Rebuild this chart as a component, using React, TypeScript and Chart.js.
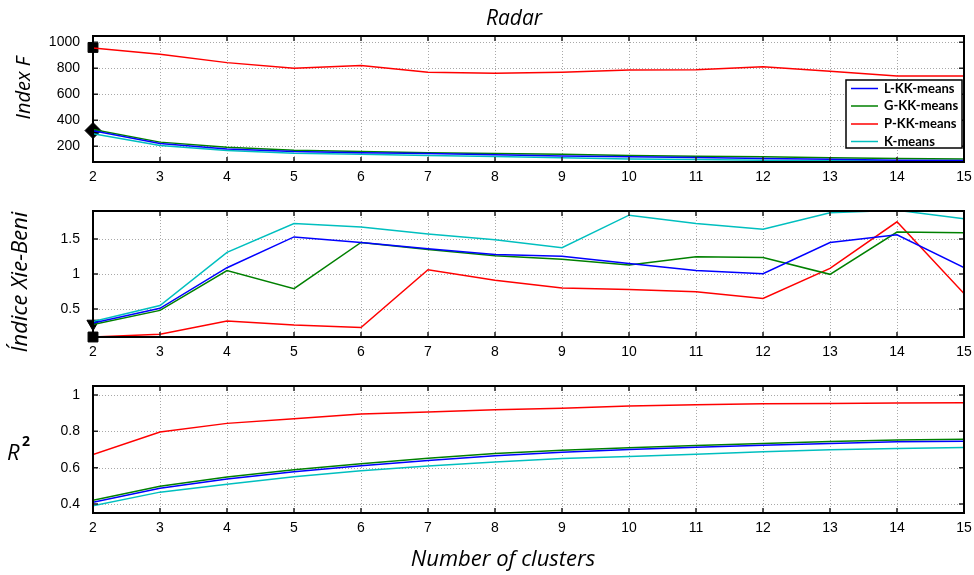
import React, { useEffect, useRef } from "react";
import { Chart, registerables } from "chart.js";
Chart.register(...registerables);

const clusters = [2, 3, 4, 5, 6, 7, 8, 9, 10, 11, 12, 13, 14, 15];
const seriesNames = ["L-KK-means", "G-KK-means", "P-KK-means", "K-means"];
const seriesColors = ["#0000ff", "#008000", "#ff0000", "#00bfbf"];

const indexF_L = [318, 220, 179, 158, 150, 143, 133, 125, 118, 113, 105, 100, 92, 90];
const indexF_G = [328, 231, 192, 169, 158, 150, 143, 138, 128, 123, 118, 110, 105, 102];
const indexF_P = [956, 908, 843, 800, 820, 769, 762, 769, 787, 789, 812, 777, 741, 741];
const indexF_K = [295, 205, 167, 146, 138, 128, 120, 110, 102, 97, 92, 87, 85, 82];

const xb_L = [0.3, 0.51, 1.09, 1.53, 1.45, 1.36, 1.28, 1.255, 1.15, 1.05, 1.005, 1.45, 1.56, 1.09];
const xb_G = [0.28, 0.48, 1.05, 0.79, 1.45, 1.35, 1.26, 1.21, 1.13, 1.245, 1.235, 0.995, 1.6, 1.59];
const xb_P = [0.1, 0.14, 0.33, 0.27, 0.235, 1.06, 0.91, 0.8, 0.78, 0.745, 0.65, 1.08, 1.745, 0.72];
const xb_K = [0.32, 0.55, 1.31, 1.72, 1.67, 1.57, 1.49, 1.375, 1.84, 1.72, 1.64, 1.875, 1.91, 1.79];

const r2_L = [0.409, 0.487, 0.537, 0.578, 0.611, 0.639, 0.665, 0.685, 0.7, 0.713, 0.724, 0.733, 0.743, 0.746];
const r2_G = [0.42, 0.498, 0.548, 0.589, 0.622, 0.652, 0.678, 0.696, 0.709, 0.722, 0.733, 0.744, 0.752, 0.757];
const r2_P = [0.672, 0.796, 0.844, 0.87, 0.896, 0.907, 0.919, 0.928, 0.94, 0.946, 0.952, 0.954, 0.956, 0.957];
const r2_K = [0.39, 0.465, 0.509, 0.55, 0.583, 0.609, 0.631, 0.65, 0.661, 0.674, 0.687, 0.698, 0.706, 0.711];

const indexFTicks = [200, 400, 600, 800, 1000];
const xbTicks = [0.5, 1, 1.5];
const r2Ticks = [0.4, 0.6, 0.8, 1];

const indexFMarkers = [960, 320];
const indexFMarkerStyles = ["rect", "rectRot"];
const xbMarkers = [0.1, 0.29];
const xbMarkerStyles = ["rect", "triangle"];

const TITLE_FONT = "'Open Sans', 'DejaVu Sans', sans-serif";
const TICK_FONT = "'Liberation Sans', Arial, sans-serif";

type PanelProps = {
  top: number;
  height: number;
  padTop: number;
  padBottom: number;
  yMin: number;
  yMax: number;
  yTicks: number[];
  series: number[][];
  markers?: number[];
  markerStyles?: string[];
  markerRotation?: number[];
  markerRadius?: number[];
  drawTexts: (ctx: CanvasRenderingContext2D, chart: any) => void;
  legend?: boolean;
};

function fmt(v: number) {
  return String(Math.round(v * 100) / 100);
}

function Panel(p: PanelProps) {
  const ref = useRef<HTMLCanvasElement | null>(null);
  useEffect(() => {
    const canvas = ref.current!;
    const datasets: any[] = p.series.map((vals, i) => ({
      label: seriesNames[i],
      data: clusters.map((c, j) => ({ x: c, y: vals[j] })),
      borderColor: seriesColors[i],
      backgroundColor: seriesColors[i],
      borderWidth: 1.5,
      pointRadius: 0,
      tension: 0,
    }));
    if (p.markers) {
      datasets.push({
        type: "scatter",
        label: "markers",
        data: p.markers.map((v) => ({ x: clusters[0], y: v })),
        pointStyle: p.markerStyles,
        pointRotation: p.markerRotation || [0, 0],
        pointRadius: p.markerRadius || [7, 8],
        backgroundColor: "#000",
        borderColor: "#000",
        borderWidth: 1,
        clip: false,
        showLine: false,
      });
    }
    const frame = {
      id: "frame",
      beforeDatasetsDraw(chart: any) {
        const { ctx, chartArea: a, scales } = chart;
        ctx.save();
        ctx.strokeStyle = "#a8a8a8";
        ctx.lineWidth = 1;
        ctx.setLineDash([1, 2]);
        scales.x.ticks.forEach((t: any) => {
          const x = Math.round(scales.x.getPixelForValue(t.value)) + 0.5;
          ctx.beginPath();
          ctx.moveTo(x, a.top);
          ctx.lineTo(x, a.bottom);
          ctx.stroke();
        });
        scales.y.ticks.forEach((t: any) => {
          const y = Math.round(scales.y.getPixelForValue(t.value)) + 0.5;
          ctx.beginPath();
          ctx.moveTo(a.left, y);
          ctx.lineTo(a.right, y);
          ctx.stroke();
        });
        ctx.restore();
      },
      afterDatasetsDraw(chart: any) {
        const { ctx, chartArea: a, scales } = chart;
        ctx.save();
        ctx.setLineDash([]);
        ctx.strokeStyle = "#222";
        ctx.lineWidth = 1.5;
        const tl = 5;
        scales.x.ticks.forEach((t: any) => {
          const x = scales.x.getPixelForValue(t.value);
          ctx.beginPath();
          ctx.moveTo(x, a.bottom);
          ctx.lineTo(x, a.bottom - tl);
          ctx.moveTo(x, a.top);
          ctx.lineTo(x, a.top + tl);
          ctx.stroke();
        });
        scales.y.ticks.forEach((t: any) => {
          const y = scales.y.getPixelForValue(t.value);
          ctx.beginPath();
          ctx.moveTo(a.left, y);
          ctx.lineTo(a.left + tl, y);
          ctx.moveTo(a.right, y);
          ctx.lineTo(a.right - tl, y);
          ctx.stroke();
        });
        ctx.strokeStyle = "#000";
        ctx.lineWidth = 2;
        ctx.strokeRect(a.left, a.top, a.right - a.left, a.bottom - a.top);
        if (p.legend) {
          const bx = 846, by = 80, bw = 116, bh = 68;
          ctx.fillStyle = "#fff";
          ctx.fillRect(bx, by, bw, bh);
          ctx.lineWidth = 1.5;
          ctx.strokeStyle = "#000";
          ctx.strokeRect(bx, by, bw, bh);
          const rows = [88.5, 106, 124, 141.5];
          ctx.font = "bold 13px Lato, 'Liberation Sans', sans-serif";
          ctx.textBaseline = "middle";
          ctx.textAlign = "left";
          seriesNames.forEach((n, i) => {
            ctx.strokeStyle = seriesColors[i];
            ctx.lineWidth = 1.5;
            ctx.beginPath();
            ctx.moveTo(851, rows[i]);
            ctx.lineTo(878, rows[i]);
            ctx.stroke();
            ctx.fillStyle = "#000";
            ctx.fillText(n, 884, rows[i]);
          });
        }
        ctx.restore();
      },
      afterDraw(chart: any) {
        const ctx = chart.ctx;
        ctx.save();
        p.drawTexts(ctx, chart);
        ctx.restore();
      },
    };
    const chart = new Chart(canvas, {
      type: "line",
      data: { datasets },
      options: {
        animation: false,
        responsive: false,
        maintainAspectRatio: false,
        layout: { padding: { top: p.padTop, bottom: p.padBottom, left: 0, right: 10 } },
        plugins: { legend: { display: false }, tooltip: { enabled: false }, title: { display: false } },
        scales: {
          x: {
            type: "linear",
            min: 2,
            max: 15,
            grid: { display: false, drawTicks: false },
            border: { display: false },
            afterBuildTicks: (s: any) => {
              s.ticks = clusters.map((c) => ({ value: c }));
            },
            ticks: {
              padding: 7,
              color: "#000",
              font: { family: TICK_FONT, size: 14 },
              callback: (v: any) => String(v),
            },
            afterFit: (s: any) => {
              s.height = 28;
              s.paddingLeft = 0;
              s.paddingRight = 0;
            },
          },
          y: {
            type: "linear",
            min: p.yMin,
            max: p.yMax,
            grid: { display: false, drawTicks: false },
            border: { display: false },
            afterBuildTicks: (s: any) => {
              s.ticks = p.yTicks.map((v) => ({ value: v }));
            },
            ticks: {
              padding: 13,
              color: "#000",
              font: { family: TICK_FONT, size: 14 },
              callback: (v: any) => fmt(Number(v)),
            },
            afterFit: (s: any) => {
              s.width = 93;
              s.paddingTop = 0;
              s.paddingBottom = 0;
            },
          },
        },
      } as any,
      plugins: [frame],
    });
    return () => chart.destroy();
  }, []);
  return (
    <canvas
      ref={ref}
      width={974}
      height={p.height}
      style={{ position: "absolute", left: 0, top: p.top, width: 974, height: p.height, display: "block" }}
    />
  );
}

function rotatedText(ctx: CanvasRenderingContext2D, text: string, x: number, y: number, font: string) {
  ctx.save();
  ctx.translate(x, y);
  ctx.rotate(-Math.PI / 2);
  ctx.font = font;
  ctx.fillStyle = "#000";
  ctx.textAlign = "center";
  ctx.textBaseline = "middle";
  ctx.fillText(text, 0, 0);
  ctx.restore();
}

export default function App() {
  return (
    <div style={{ position: "absolute", left: 0, top: 0, width: 974, height: 575, background: "#fff" }}>
      <Panel
        top={0}
        height={190}
        padTop={36}
        padBottom={0}
        yMin={78}
        yMax={1048}
        yTicks={indexFTicks}
        series={[indexF_L, indexF_G, indexF_P, indexF_K]}
        markers={indexFMarkers}
        markerStyles={indexFMarkerStyles}
        markerRadius={[7, 8]}
        legend
        drawTexts={(ctx) => {
          ctx.font = `italic 21px ${TITLE_FONT}`;
          ctx.fillStyle = "#000";
          ctx.textAlign = "center";
          ctx.textBaseline = "alphabetic";
          ctx.fillText("Radar", 514, 25);
          rotatedText(ctx, "Index F", 24, 88, `italic 20px ${TITLE_FONT}`);
        }}
      />
      <Panel
        top={190}
        height={175}
        padTop={21}
        padBottom={0}
        yMin={0.1}
        yMax={1.9}
        yTicks={xbTicks}
        series={[xb_L, xb_G, xb_P, xb_K]}
        markers={xbMarkers}
        markerStyles={xbMarkerStyles}
        markerRotation={[0, 180]}
        markerRadius={[7, 7]}
        drawTexts={(ctx) => {
          rotatedText(ctx, "Índice Xie-Beni", 21, 92, `italic 22px ${TITLE_FONT}`);
        }}
      />
      <Panel
        top={365}
        height={210}
        padTop={21}
        padBottom={34}
        yMin={0.35}
        yMax={1.05}
        yTicks={r2Ticks}
        series={[r2_L, r2_G, r2_P, r2_K]}
        drawTexts={(ctx) => {
          ctx.fillStyle = "#000";
          ctx.textBaseline = "alphabetic";
          ctx.textAlign = "left";
          ctx.font = `italic 22px ${TITLE_FONT}`;
          ctx.fillText("R", 7, 95);
          ctx.font = `bold 14px ${TITLE_FONT}`;
          ctx.fillText("2", 22, 81);
          ctx.font = `italic 22px ${TITLE_FONT}`;
          ctx.textAlign = "center";
          ctx.fillText("Number of clusters", 503, 201);
        }}
      />
    </div>
  );
}
